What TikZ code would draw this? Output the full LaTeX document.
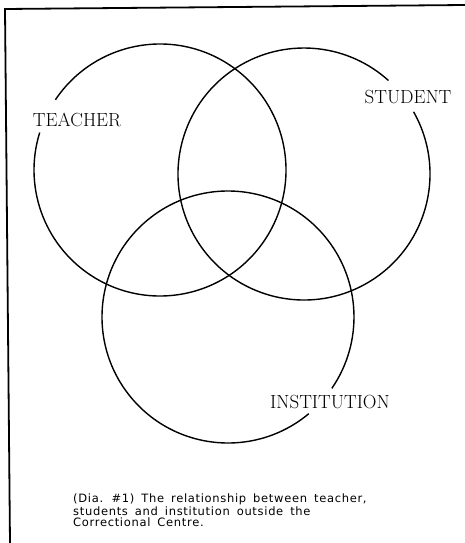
\documentclass[tikz,border=0pt]{standalone}
\usepackage{fontspec}
\newfontfamily\capfont[LetterSpace=6,WordSpace=1.6]{DejaVu Sans}
\begin{document}
\begin{tikzpicture}[x=1pt,y=-1pt,
  circ/.style={line width=1.4pt},
  frame/.style={line width=1.8pt},
  lbl/.style={font=\fontsize{19}{21}\selectfont, inner sep=0pt},
  captext/.style={font=\capfont\fontsize{11.5}{11}\selectfont, inner sep=0pt, align=left, anchor=north west}]
\useasboundingbox (0,0) rectangle (465,543);
% frame
\draw[frame] (10,543) -- (5,9) -- (465,5);
% centres
\coordinate (tc) at (160,170);
\coordinate (sc) at (304,174);
\coordinate (ic) at (228,317);
% circles with gaps for the labels
\draw[circ] (tc) ++(213.9:126) arc[start angle=213.9, end angle=557.3, radius=126];
\draw[circ] (sc) ++(330.4:126) arc[start angle=330.4, end angle=672.1, radius=126];
\draw[circ] (ic) ++(50.1:126) arc[start angle=50.1, end angle=394.5, radius=126];
% labels
\node[lbl] (teacher) at (77,120) {TEACHER};
\node[lbl] (student) at (408,97) {STUDENT};
\node[lbl] (institution) at (330,402) {INSTITUTION};
% caption
\node[captext] (caption) at (73,494) {(Dia. \#1) The relationship between teacher,\\students and institution outside the\\Correctional Centre.};
\end{tikzpicture}
\end{document}
